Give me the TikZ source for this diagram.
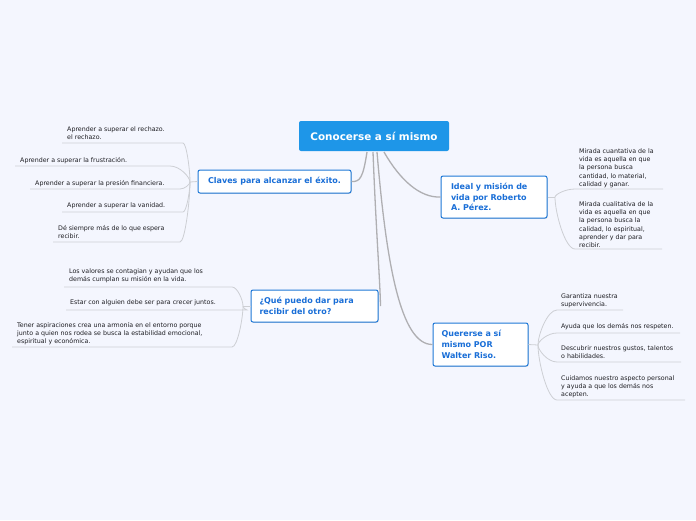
\documentclass[tikz,border=0pt]{standalone}
\usepackage{fontspec}
\setmainfont{DejaVu Sans}
\usetikzlibrary{calc,shadows}
\definecolor{bg}{RGB}{244,246,254}
\definecolor{mainblue}{RGB}{30,150,232}
\definecolor{boxblue}{RGB}{30,120,215}
\definecolor{txtblue}{RGB}{25,110,215}
\definecolor{mainline}{RGB}{175,175,178}
\definecolor{leafline}{RGB}{205,207,212}
\definecolor{leaftxt}{RGB}{30,30,35}
\begin{document}
\begin{tikzpicture}[x=1pt,y=-1pt,
  leaf/.style={anchor=north west,inner sep=0pt,align=left,text=leaftxt,font=\fontsize{6.3}{8.1}\selectfont,yshift=-1.8pt},
  topic/.style={draw=boxblue,line width=1pt,fill=white,rounded corners=2pt,text=txtblue,font=\bfseries\fontsize{8}{10.8}\selectfont,align=left,inner sep=0pt,drop shadow={shadow xshift=0.6pt,shadow yshift=-0.8pt,opacity=0.25}},
  mainc/.style={draw=mainline,line width=1.3pt},
  leafc/.style={draw=leafline,line width=0.8pt}]
\fill[bg] (0,0) rectangle (696,520);
\useasboundingbox (0,0) rectangle (696,520);
% central
\node[fill=mainblue,rounded corners=2pt,text=white,font=\bfseries\fontsize{10.4}{12}\selectfont,minimum width=150pt,minimum height=30pt,inner sep=0pt] (cen) at (374,136) {Conocerse a sí mismo};
% topics
\node[topic,minimum width=153pt,minimum height=23pt,align=center] (cl) at (274.5,181.5) {Claves para alcanzar el éxito.};
\node[topic,minimum width=106pt,minimum height=42pt,text width=86pt] (id) at (494,197) {Ideal y misión de\\vida por Roberto\\A. Pérez.};
\node[topic,minimum width=127pt,minimum height=32pt,text width=110pt] (qp) at (314.5,306) {¿Qué puedo dar para\\recibir del otro?};
\node[topic,minimum width=95pt,minimum height=43pt,text width=78pt] (qr) at (480.5,344.5) {Quererse a sí\\mismo POR\\Walter Riso.};
% main connectors
\coordinate (s1) at (367,152);
\coordinate (s2) at (384,152);
\coordinate (s3) at (373,152);
\coordinate (s4) at (377,152);
\draw[mainc] (s1) .. controls (363,178) and (360,182) .. (cl.east);
\draw[mainc] (s2) .. controls (400,180) and (420,198) .. (id.west);
\draw[mainc] (s3) .. controls (376,230) and (380,280) .. ($(qp.east)+(2,0)$);
\draw[mainc] (s4) .. controls (386,260) and (400,345) .. (qr.west);
% Claves leaves
\node[leaf] (l1) at (67,124.5) {Aprender a superar el rechazo.\\el rechazo.};
\node[leaf] (l2) at (20,155) {Aprender a superar la frustración.};
\node[leaf] (l3) at (35,178) {Aprender a superar la presión financiera.};
\node[leaf] (l4) at (67,200.5) {Aprender a superar la vanidad.};
\node[leaf] (l5) at (58,223) {Dé siempre más de lo que espera\\recibir.};
\coordinate (u1a) at (62,143); \coordinate (u1b) at (183,143);
\coordinate (u2a) at (15,166); \coordinate (u2b) at (170,166);
\coordinate (u3a) at (30,189); \coordinate (u3b) at (180,189);
\coordinate (u4a) at (62,212); \coordinate (u4b) at (183,212);
\coordinate (u5a) at (53,242); \coordinate (u5b) at (180,242);
\coordinate (cj) at (190,182);
\draw[leafc] (cl.west) -- (cj);
\foreach \i in {1,...,5}{\draw[leafc] (u\i a) -- (u\i b) .. controls ($(u\i b)!0.5!(u\i b-|cj)$) and ($(cj)!0.3!(cj|-u\i b)$) .. (cj);}
% Ideal leaves
\node[leaf] (i1) at (579,147) {Mirada cuantativa de la\\vida es aquella en que\\la persona busca\\cantidad, lo material,\\calidad y ganar.};
\node[leaf] (i2) at (579,200) {Mirada cualitativa de la\\vida es aquella en que\\la persona busca la\\calidad, lo espiritual,\\aprender y dar  para\\recibir.};
\coordinate (v1a) at (575,189); \coordinate (v1b) at (663,189);
\coordinate (v2a) at (575,249); \coordinate (v2b) at (662,249);
\coordinate (ij) at (555,197);
\draw[leafc] (id.east) -- (ij);
\foreach \i in {1,2}{\draw[leafc] (v\i b) -- (v\i a) .. controls ($(v\i a)!0.5!(v\i a-|ij)$) and ($(ij)!0.3!(ij|-v\i a)$) .. (ij);}
% Que puedo leaves
\node[leaf] (q1) at (69,267) {Los valores se contagian y ayudan que los\\demás cumplan su misión en la vida.};
\node[leaf] (q2) at (70,298) {Estar con alguien debe ser para crecer juntos.};
\node[leaf] (q3) at (17,320) {Tener aspiraciones crea una armonía en el entorno porque\\junto a  quien nos rodea se busca la estabilidad emocional,\\espiritual y económica.};
\coordinate (w1a) at (64,287); \coordinate (w1b) at (232,287);
\coordinate (w2a) at (66,310); \coordinate (w2b) at (247,310);
\coordinate (w3a) at (12,347); \coordinate (w3b) at (232,347);
\coordinate (qj) at (243,306);
\draw[leafc] (qp.west) -- (qj);
\foreach \i in {1,2,3}{\draw[leafc] (w\i a) -- (w\i b) .. controls ($(w\i b)!0.5!(w\i b-|qj)$) and ($(qj)!0.3!(qj|-w\i b)$) .. (qj);}
% Quererse leaves
\node[leaf] (r1) at (561,292) {Garantiza nuestra\\supervivencia.};
\node[leaf] (r2) at (561,321) {Ayuda que los demás nos respeten.};
\node[leaf] (r3) at (561,344) {Descubrir nuestros gustos, talentos\\o habilidades.};
\node[leaf] (r4) at (561,374) {Cuidamos nuestro aspecto personal\\y ayuda a que los demás nos\\acepten.};
\coordinate (x1a) at (557,310); \coordinate (x1b) at (623,310);
\coordinate (x2a) at (557,333); \coordinate (x2b) at (680,333);
\coordinate (x3a) at (557,362); \coordinate (x3b) at (681,362);
\coordinate (x4a) at (557,400); \coordinate (x4b) at (685,400);
\coordinate (rj) at (538,345);
\draw[leafc] (qr.east) -- (rj);
\foreach \i in {1,...,4}{\draw[leafc] (x\i b) -- (x\i a) .. controls ($(x\i a)!0.5!(x\i a-|rj)$) and ($(rj)!0.3!(rj|-x\i a)$) .. (rj);}
\end{tikzpicture}
\end{document}
